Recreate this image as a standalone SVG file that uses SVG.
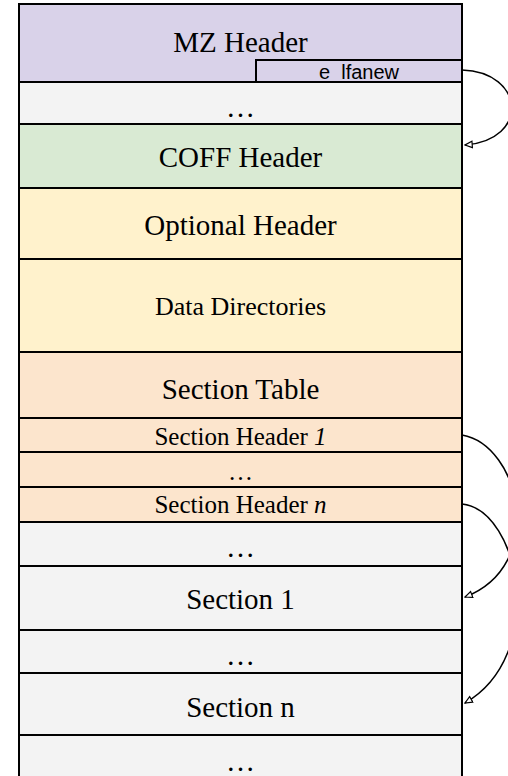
<svg xmlns="http://www.w3.org/2000/svg" width="508" height="776" viewBox="0 0 508 776">
<style>
.r{stroke:#000;stroke-width:2}
.t{font-family:"Liberation Serif","Times New Roman",serif;font-size:29px;text-anchor:middle;fill:#000}
.s{font-size:25px}
.d{font-size:26px}
.c{stroke:#000;stroke-width:1.5;fill:none;marker-end:url(#ah)}
</style>
<defs>
<marker id="ah" viewBox="0 0 10 10" refX="9" refY="5" markerWidth="9" markerHeight="9" markerUnits="userSpaceOnUse" orient="auto">
<path d="M1,1.5 L9,5 L1,8.5 Z" fill="#fff" stroke="#000" stroke-width="1.3"/>
</marker>
</defs>
<rect x="0" y="0" width="508" height="776" fill="#fff"/>
<g id="mz"><rect class="r" x="19" y="4" width="443" height="78" fill="#d9d2e9"/><text class="t" x="240.5" y="52">MZ Header</text></g>
<g id="lfanew"><rect class="r" x="256" y="60" width="206" height="22" fill="#d9d2e9"/><text x="359" y="79" font-family="'Liberation Sans',Arial,sans-serif" font-size="20" text-anchor="middle">e_lfanew</text></g>
<g id="gap1"><rect class="r" x="19" y="82" width="443" height="42" fill="#f3f3f3"/><text class="t" x="240.5" y="117">…</text></g>
<g id="coff"><rect class="r" x="19" y="124" width="443" height="64" fill="#d9ead3"/><text class="t" x="240.5" y="167">COFF Header</text></g>
<g id="opt"><rect class="r" x="19" y="188" width="443" height="71" fill="#fff2cc"/><text class="t" x="240.5" y="235">Optional Header</text></g>
<g id="dd"><rect class="r" x="19" y="259" width="443" height="93" fill="#fff2cc"/><text class="t d" x="240.5" y="315">Data Directories</text></g>
<g id="st"><rect class="r" x="19" y="352" width="443" height="66" fill="#fce5cd"/><text class="t" x="240.5" y="399">Section Table</text></g>
<g id="sh1"><rect class="r" x="19" y="418" width="443" height="34" fill="#fce5cd"/><text class="t s" x="240.5" y="445">Section Header <tspan font-style="italic">1</tspan></text></g>
<g id="shd"><rect class="r" x="19" y="452" width="443" height="35" fill="#fce5cd"/><text class="t s" x="240.5" y="480">…</text></g>
<g id="shn"><rect class="r" x="19" y="487" width="443" height="35" fill="#fce5cd"/><text class="t s" x="240.5" y="513">Section Header <tspan font-style="italic">n</tspan></text></g>
<g id="gap2"><rect class="r" x="19" y="522" width="443" height="44" fill="#f3f3f3"/><text class="t" x="240.5" y="557">…</text></g>
<g id="sec1"><rect class="r" x="19" y="566" width="443" height="64" fill="#f3f3f3"/><text class="t" x="240.5" y="609">Section 1</text></g>
<g id="gap3"><rect class="r" x="19" y="630" width="443" height="43" fill="#f3f3f3"/><text class="t" x="240.5" y="665">…</text></g>
<g id="secn"><rect class="r" x="19" y="673" width="443" height="62" fill="#f3f3f3"/><text class="t" x="240.5" y="717">Section n</text></g>
<g id="gap4"><rect class="r" x="19" y="735" width="443" height="45" fill="#f3f3f3"/><text class="t" x="240.5" y="771">…</text></g>
<g id="connectors">
<path class="c" d="M462,70 C525,72 530,140 465,145"/>
<path class="c" d="M462,435 C520,445 548,565 465,597"/>
<path class="c" d="M462,504 C520,510 548,655 465,703"/>
</g>
</svg>
